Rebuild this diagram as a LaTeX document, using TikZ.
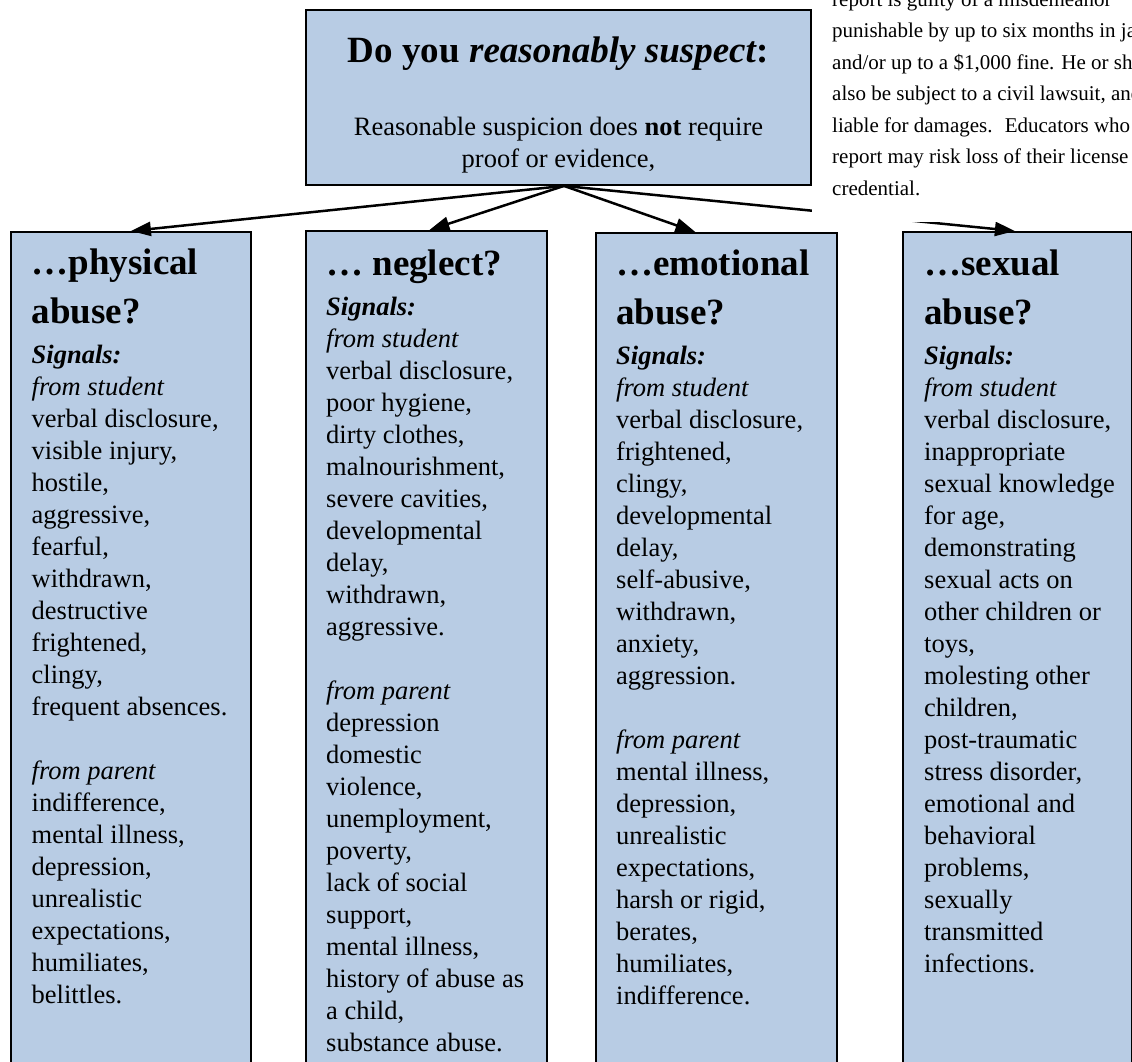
\documentclass[tikz,border=0pt]{standalone}
\usepackage{fontspec}
\setmainfont{Liberation Serif}
\usetikzlibrary{arrows.meta,calc}
\definecolor{boxblue}{HTML}{B8CCE4}
\newcommand\HdL[2]{{\fontsize{37}{#1}\selectfont\bfseries #2\par}}
\newcommand\SigL[1]{{\fontsize{26.5}{#1}\selectfont\bfseries\itshape Signals:\par}}
\newcommand\ItL[1]{{\fontsize{26.5}{32}\selectfont\itshape #1\par}}
\newcommand\BdL[1]{{\fontsize{26.5}{32}\selectfont #1\par}}
\newcommand\GapL{\vskip32pt}
\newcommand\ColText[1]{\vtop{\hsize=236pt\parindent=0pt\parskip=0pt\lineskiplimit=-100pt\raggedright #1}}
\begin{document}
\begin{tikzpicture}[x=1pt,y=-1pt,
  sigbox/.style={draw=black,fill=boxblue,line width=1.8pt,rectangle,inner sep=0pt},
  coltxt/.style={anchor=base west,inner sep=0pt},
  arr/.style={line width=2.5pt,-{Triangle[length=20pt,width=14pt]}}]
\useasboundingbox (0,0) rectangle (1132,1062);
\clip (0,0) rectangle (1132,1062);
% top box
\node[sigbox,minimum width=505pt,minimum height=175pt] (top) at (558.5,97.5) {};
\node[anchor=base,inner sep=0pt] (toptext) at (558.5,63) {\vtop{\hsize=500pt\parindent=0pt\lineskiplimit=-100pt\centering
  {\fontsize{37}{50}\selectfont\bfseries Do you \textit{reasonably suspect}:\par}
  {\fontsize{26.5}{73}\selectfont Reasonable suspicion does \textbf{not} require\par}
  {\fontsize{26.5}{32}\selectfont proof or evidence,\par}}};
% column boxes
\node[sigbox,anchor=north west,minimum width=240pt,minimum height=840pt] (phys) at (10,231) {};
\node[sigbox,anchor=north west,minimum width=241pt,minimum height=840pt] (negl) at (305,230) {};
\node[sigbox,anchor=north west,minimum width=241pt,minimum height=840pt] (emo) at (595,232) {};
\node[sigbox,anchor=north west,minimum width=229pt,minimum height=840pt] (sex) at (902,231) {};
% column texts
\node[coltxt] (physT) at (31.5,274) {\ColText{%
  \HdL{50}{…physical}\HdL{49}{abuse?}\SigL{40}\ItL{from student}%
  \BdL{verbal disclosure,}\BdL{visible injury,}\BdL{hostile,}\BdL{aggressive,}\BdL{fearful,}%
  \BdL{withdrawn,}\BdL{destructive}\BdL{frightened,}\BdL{clingy,}\BdL{frequent absences.}\GapL
  \ItL{from parent}\BdL{indifference,}\BdL{mental illness,}\BdL{depression,}\BdL{unrealistic}%
  \BdL{expectations,}\BdL{humiliates,}\BdL{belittles.}}};
\node[coltxt] (neglT) at (326,275) {\ColText{%
  \HdL{50}{… neglect?}\SigL{40}\ItL{from student}%
  \BdL{verbal disclosure,}\BdL{poor hygiene,}\BdL{dirty clothes,}\BdL{malnourishment,}%
  \BdL{severe cavities,}\BdL{developmental}\BdL{delay,}\BdL{withdrawn,}\BdL{aggressive.}\GapL
  \ItL{from parent}\BdL{depression}\BdL{domestic}\BdL{violence,}\BdL{unemployment,}\BdL{poverty,}%
  \BdL{lack of social}\BdL{support,}\BdL{mental illness,}\BdL{history of abuse as}\BdL{a child,}%
  \BdL{substance abuse.}}};
\node[coltxt] (emoT) at (616,275) {\ColText{%
  \HdL{50}{…emotional}\HdL{49}{abuse?}\SigL{40}\ItL{from student}%
  \BdL{verbal disclosure,}\BdL{frightened,}\BdL{clingy,}\BdL{developmental}\BdL{delay,}%
  \BdL{self-abusive,}\BdL{withdrawn,}\BdL{anxiety,}\BdL{aggression.}\GapL
  \ItL{from parent}\BdL{mental illness,}\BdL{depression,}\BdL{unrealistic}\BdL{expectations,}%
  \BdL{harsh or rigid,}\BdL{berates,}\BdL{humiliates,}\BdL{indifference.}}};
\node[coltxt] (sexT) at (924,275) {\ColText{%
  \HdL{50}{…sexual}\HdL{49}{abuse?}\SigL{40}\ItL{from student}%
  \BdL{verbal disclosure,}\BdL{inappropriate}\BdL{sexual knowledge}\BdL{for age,}%
  \BdL{demonstrating}\BdL{sexual acts on}\BdL{other children or}\BdL{toys,}\BdL{molesting other}%
  \BdL{children,}\BdL{post-traumatic}\BdL{stress disorder,}\BdL{emotional and}\BdL{behavioral}%
  \BdL{problems,}\BdL{sexually}\BdL{transmitted}\BdL{infections.}}};
% connectors
\coordinate (src) at ([xshift=5.5pt]top.south);
\coordinate (tipP) at (phys.north);
\coordinate (tipN) at ([xshift=3pt]negl.north);
\coordinate (tipE) at ([xshift=-21pt]emo.north);
\coordinate (tipS) at ([xshift=-2.5pt]sex.north);
\draw[arr] (src) -- (tipP);
\draw[arr] (src) -- (tipN);
\draw[arr] (src) -- (tipE);
\draw[arr] (src) -- (tipS);
% note at top right (covers part of the long connector)
\node[fill=white,inner sep=0pt,anchor=south west,minimum width=330pt,minimum height=260pt] (note) at (812,222) {};
\node[anchor=base west,inner sep=0pt] (noteT) at (832,195) {\vbox{\hsize=500pt\parindent=0pt\lineskiplimit=-100pt\fontsize{21}{31.5}\selectfont
  report is guilty of a misdemeanor\par
  punishable by up to six months in jail\par
  and/or up to a \$1,000 fine. He or she\par
  also be subject to a civil lawsuit, and\par
  liable for damages.~ Educators who\par
  report may risk loss of their license\par
  credential.\par}};
\end{tikzpicture}
\end{document}
